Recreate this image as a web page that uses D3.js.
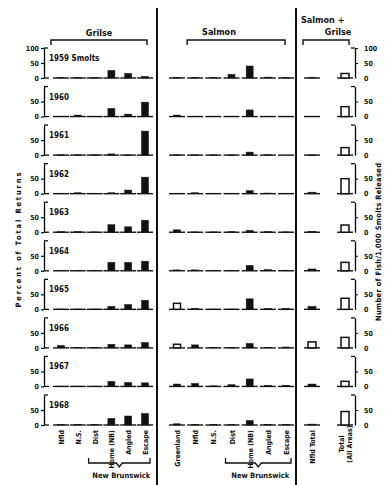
<!DOCTYPE html>
<html><head><meta charset="utf-8">
<script src="https://cdn.jsdelivr.net/npm/d3@7"></script>
<style>
body{margin:0;background:#fff;}
svg text{font-family:"DejaVu Sans Condensed","DejaVu Sans",sans-serif;font-weight:bold;fill:#111;}
.tick text{font-size:7px;}
</style></head><body>
<svg id="chart" width="386" height="485"></svg>
<script>
// ---------- DATA ----------
const years = ["1959","1960","1961","1962","1963","1964","1965","1966","1967","1968"];
const rowLabels = ["1959 Smolts","1960","1961","1962","1963","1964","1965","1966","1967","1968"];

const grilseCategories = ["Nfld","N.S.","Dist","Home (NB)","Angled","Escape"];
const salmonCategories = ["Greenland","Nfld","N.S.","Dist","Home (NB)","Angled","Escape"];
const totalCategories = ["Nfld Total","Total (All Areas)"];
const totalLabelLines = [["Nfld Total"],["Total","(All Areas)"]];

// percent of total returns (rows = years)
const grilseValues = [
  [1,1,1,25,15,5],
  [1,5,1,27,8,48],
  [1,1,1,4,1,80],
  [1,3,1,3,12,55],
  [2,2,1,25,18,40],
  [1,1,1,28,28,32],
  [1,1,1,10,16,30],
  [8,1,1,12,10,18],
  [1,1,1,17,13,12],
  [1,2,1,22,30,38]
];
const salmonValues = [
  [2,1,1,12,40,3,1],
  [5,1,1,1,22,1,0],
  [1,1,1,1,10,1,0],
  [1,3,1,1,10,2,0],
  [8,1,1,2,6,2,1],
  [3,3,1,1,18,4,2],
  [20,3,1,1,35,3,3],
  [12,10,1,1,15,2,3],
  [8,10,2,6,25,4,4],
  [4,2,1,1,15,2,1]
];
// number of fish / 1,000 smolts released
const totalValues = [
  [2,15],[1,33],[1,25],[5,50],[3,24],[6,28],[10,37],[20,35],[8,17],[3,45]
];
// open (unfilled) bars
const openBars = [
  ["Salmon","1965","Greenland"],
  ["Salmon","1966","Greenland"],
  ["Salmon + Grilse","1966","Nfld Total"]
];
const alwaysOpen = ["Total (All Areas)"];

const leftTicksFirst = [0,50,100], leftTicks = [0,50];

// ---------- CHART ----------
const svg = d3.select("#chart");
svg.append("rect").attr("width",386).attr("height",485).attr("fill","#fff");

const rowBase = d3.scalePoint().domain(years).range([78,425]);
const y = d3.scaleLinear().domain([0,100]).range([0,-30]);

const sections = [
  {name:"Grilse", cats:grilseCategories, values:grilseValues,
   x:d3.scalePoint().domain(grilseCategories).range([61,145]), bw:7},
  {name:"Salmon", cats:salmonCategories, values:salmonValues,
   x:d3.scalePoint().domain(salmonCategories).range([177,286]), bw:7},
  {name:"Salmon + Grilse", cats:totalCategories, values:totalValues,
   x:d3.scalePoint().domain(totalCategories).range([312,345]), bw:8}
];

const isOpen = (sec, yr, c) => alwaysOpen.includes(c) ||
  openBars.some(o => o[0]===sec && o[1]===yr && o[2]===c);

years.forEach((yr,i) => {
  const g = svg.append("g").attr("transform",`translate(0,${rowBase(yr)})`);
  const tv = i===0 ? leftTicksFirst : leftTicks;

  // left axis
  const la = g.append("g").attr("transform","translate(44,0)")
    .call(d3.axisLeft(y).tickValues(tv).tickSize(3).tickSizeOuter(0).tickPadding(2));
  la.select(".domain").attr("stroke-width",1.3);
  la.selectAll(".tick line").attr("stroke-width",1.2);
  g.append("line").attr("x1",44).attr("x2",48).attr("y1",y(100)).attr("y2",y(100))
    .attr("stroke","#111").attr("stroke-width",1.3);
  g.append("line").attr("x1",44).attr("x2",49).attr("y1",0).attr("y2",0)
    .attr("stroke","#111").attr("stroke-width",1.3);

  // right axis
  const ra = g.append("g").attr("transform","translate(355,0)")
    .call(d3.axisRight(y).tickValues(tv).tickSize(3).tickSizeOuter(0).tickPadding(6));
  ra.select(".domain").attr("stroke-width",1.3);
  ra.selectAll(".tick line").filter(d=>d===0).remove();
  g.append("line").attr("x1",351).attr("x2",355).attr("y1",y(100)).attr("y2",y(100))
    .attr("stroke","#111").attr("stroke-width",1.3);

  // row label
  g.append("text").attr("x",49).attr("y",-17).attr("font-size","8px").text(rowLabels[i]);

  sections.forEach(s => {
    const vals = s.values[i];
    // baseline segments
    g.selectAll(null).data(s.cats).join("line")
      .attr("x1",c=>s.x(c)-8).attr("x2",c=>s.x(c)+8)
      .attr("y1",0).attr("y2",0)
      .attr("stroke","#111").attr("stroke-width",1.4);
    // bars
    g.selectAll(null).data(s.cats.map((c,j)=>({c,v:vals[j]}))).join("rect")
      .attr("x",d=>s.x(d.c)-s.bw/2)
      .attr("y",d=>y(d.v))
      .attr("width",s.bw)
      .attr("height",d=>Math.max(0,-y(d.v)))
      .attr("fill",d=>isOpen(s.name,yr,d.c)?"#fff":"#111")
      .attr("stroke","#111")
      .attr("stroke-width",d=>isOpen(s.name,yr,d.c)?1.5:0.5);
  });
});

// vertical dividers
[157,296].forEach(xv => svg.append("line").attr("x1",xv).attr("x2",xv)
  .attr("y1",8).attr("y2",485).attr("stroke","#111").attr("stroke-width",2));

// top titles and brackets
function topBracket(x0,x1){
  svg.append("path").attr("d",`M${x0},45V40H${x1}V45`)
    .attr("fill","none").attr("stroke","#111").attr("stroke-width",1.4);
}
const gx = sections[0].x, sx = sections[1].x, tx = sections[2].x;
topBracket(gx(grilseCategories[0])-10, gx(grilseCategories[5])+2);
topBracket(sx("Nfld")-8, sx("Escape")-1);
topBracket(tx("Nfld Total")-9, tx("Total (All Areas)")+4);
svg.append("text").attr("x",99).attr("y",36).attr("text-anchor","middle").attr("font-size","9px").text("Grilse");
svg.append("text").attr("x",219).attr("y",35).attr("text-anchor","middle").attr("font-size","9px").text("Salmon");
svg.append("text").attr("x",301).attr("y",23).attr("font-size","9px").text("Salmon +");
svg.append("text").attr("x",338).attr("y",35).attr("text-anchor","middle").attr("font-size","9px").text("Grilse");

// bottom category labels
sections.forEach((s,si) => {
  s.cats.forEach((c,j) => {
    const lines = si===2 ? totalLabelLines[j] : [c];
    lines.forEach((ln,k) => {
      const xo = s.x(c) + 3 + (k - (lines.length-1)/2) * 8;
      svg.append("text")
        .attr("transform",`translate(${xo},${lines.length>1?444:430}) rotate(-90)`)
        .attr("text-anchor",lines.length>1?"middle":"end")
        .attr("font-size","7px").text(ln);
    });
  });
});

// New Brunswick brackets
function nbBracket(xs){
  const x0 = xs("Dist")-6, x1 = xs("Escape")+5, m = (x0+x1)/2;
  svg.append("path").attr("d",`M${x0},458V463H${m-3}L${m},467L${m+3},463H${x1}V458`)
    .attr("fill","none").attr("stroke","#111").attr("stroke-width",1.3);
  svg.append("text").attr("x",m+2).attr("y",478).attr("text-anchor","middle")
    .attr("font-size","7.5px").text("New Brunswick");
}
nbBracket(gx); nbBracket(sx);

// axis titles
svg.append("text").attr("transform","translate(21,240) rotate(-90)")
  .attr("text-anchor","middle").attr("font-size","7.5px")
  .attr("textLength",135).attr("lengthAdjust","spacing")
  .text("Percent of Total Returns");
svg.append("text").attr("transform","translate(381,242) rotate(-90)")
  .attr("text-anchor","middle").attr("font-size","7.5px")
  .attr("textLength",158).attr("lengthAdjust","spacing")
  .text("Number of Fish/1,000 Smolts Released");
</script>
</body></html>
